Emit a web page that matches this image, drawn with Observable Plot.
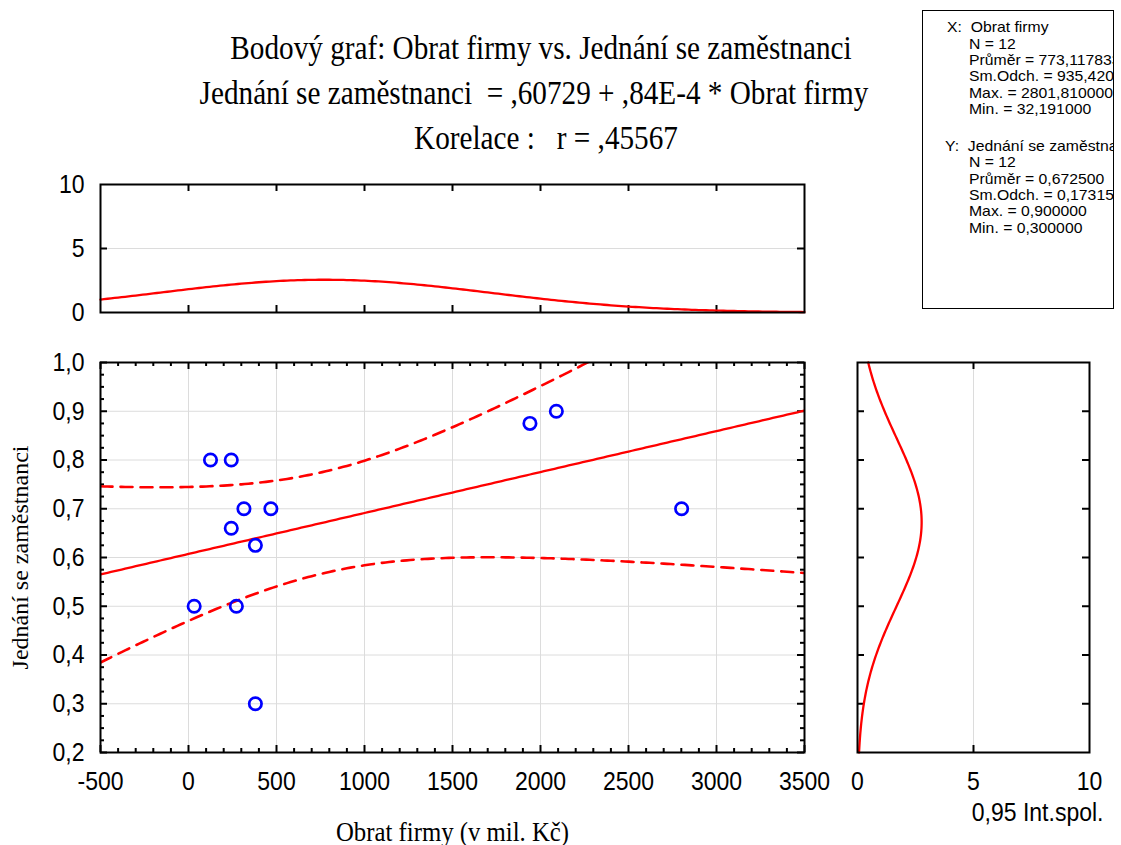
<!DOCTYPE html>
<html><head><meta charset="utf-8">
<script src="https://cdn.jsdelivr.net/npm/d3@7"></script>
<script src="https://cdn.jsdelivr.net/npm/@observablehq/plot@0.6"></script>
<style>
html,body{margin:0;padding:0;background:#fff;}
#root{position:relative;width:1121px;height:845px;overflow:hidden;background:#fff;}
.tline{position:absolute;font-family:'Liberation Serif','Times New Roman',serif;font-size:33px;line-height:33px;white-space:pre;color:#000;transform:translateX(-50%) scaleX(0.885);transform-origin:center;}
#stats{position:absolute;left:922px;top:10px;width:192px;height:299px;border:1px solid #000;box-sizing:border-box;overflow:hidden;font-family:'Liberation Sans',Arial,sans-serif;font-size:15px;color:#000;}
.sl{position:absolute;white-space:pre;line-height:1;transform:scaleX(1.05);transform-origin:left center;}
svg.abs{position:absolute;}
</style></head>
<body><div id="root"></div>
<script>
// ---- texts ----
const titleLines = [
  "Bodový graf: Obrat firmy vs. Jednání se zaměstnanci",
  "Jednání se zaměstnanci  = ,60729 + ,84E-4 * Obrat firmy",
  "Korelace :   r = ,45567"
];
const xTitle = "Obrat firmy (v mil. Kč)";
const yTitle = "Jednání se zaměstnanci";
const rightTitle = "0,95 Int.spol.";
const statsX = ["X:  Obrat firmy", "N = 12", "Průměr = 773,117833", "Sm.Odch. = 935,420200", "Max. = 2801,810000", "Min. = 32,191000"];
const statsY = ["Y:  Jednání se zaměstnanci", "N = 12", "Průměr = 0,672500", "Sm.Odch. = 0,173159", "Max. = 0,900000", "Min. = 0,300000"];

// ---- data ----
const obrat   = [125, 243, 315, 468, 243, 380, 32.191, 272, 380, 1940, 2090, 2801.81];
const jednani = [0.8, 0.8, 0.7, 0.7, 0.66, 0.625, 0.5, 0.5, 0.3, 0.875, 0.9, 0.7];

// summary statistics (from the stats box / title)
const nObs = 12, xMean = 773.117833, xSd = 935.4202, yMean = 0.6725, ySd = 0.173159;
const rCorr = 0.45567, intercept = 0.60729, slope = 0.84e-4, tCrit = 2.228;
const xBin = 500, yBin = 0.1;

// ---- tick arrays ----
const xMajor = [-500, 0, 500, 1000, 1500, 2000, 2500, 3000, 3500];
const xMinor = d3.range(-400, 3500, 100).filter(v => v % 500 !== 0);
const yMajor = [0.2, 0.3, 0.4, 0.5, 0.6, 0.7, 0.8, 0.9, 1.0];
const yMinor = d3.range(9, 40).filter(i => i % 4 !== 0).map(i => i * 0.025);
const topXTicks = [0, 500, 1000, 1500, 2000, 2500, 3000];
const topYTicks = [0, 5, 10];
const rightXTicks = [0, 5, 10];
const rightYTicks = [0.3, 0.4, 0.5, 0.6, 0.7, 0.8, 0.9];

const red = "#ff0000", blue = "#0000ff", gridColor = "#dcdcdc";
const comma1 = d => d.toFixed(1).replace(".", ",");

// ---- derived ----
const points = obrat.map((x, i) => ({x, y: jednani[i]}));
const sRes = ySd * Math.sqrt((1 - rCorr * rCorr) * (nObs - 1) / (nObs - 2));
const sxx = (nObs - 1) * xSd * xSd;
const xGrid = d3.range(-500, 3500.01, 20);
const band = xGrid.map(x => {
  const fit = intercept + slope * x;
  const h = tCrit * sRes * Math.sqrt(1 / nObs + (x - xMean) ** 2 / sxx);
  return {x, fit, lo: fit - h, hi: fit + h};
});
const pdf = (v, m, s) => Math.exp(-0.5 * ((v - m) / s) ** 2) / (s * Math.sqrt(2 * Math.PI));
const xDens = xGrid.map(x => ({x, d: nObs * xBin * pdf(x, xMean, xSd)}));
const yDens = d3.range(0.2, 1.00001, 0.005).map(y => ({y, d: nObs * yBin * pdf(y, yMean, ySd)}));

const root = document.getElementById("root");

// ---- title ----
const titleCenters = [541, 534, 546];
const titleTops = [32, 77, 122];
titleLines.forEach((t, i) => {
  const d = document.createElement("div");
  d.className = "tline";
  d.textContent = t;
  d.style.left = titleCenters[i] + "px";
  d.style.top = titleTops[i] + "px";
  root.appendChild(d);
});

// ---- stats box ----
const stats = document.createElement("div");
stats.id = "stats";
root.appendChild(stats);
const baseX = [32, 48.3, 64.6, 80.9, 97.2, 113.5];
const baseY = [150.7, 167, 183.3, 199.6, 215.9, 232.2];
function addStat(text, left, base) {
  const d = document.createElement("div");
  d.className = "sl";
  d.textContent = text;
  d.style.left = left + "px";
  d.style.top = (base - 12.7 - 11) + "px";
  stats.appendChild(d);
}
statsX.forEach((t, i) => addStat(t, i === 0 ? 23.5 : 46.3, baseX[i]));
statsY.forEach((t, i) => addStat(t, i === 0 ? 22 : 46.3, baseY[i]));

const baseStyle = {fontFamily: "'Liberation Sans', Arial, sans-serif", fontSize: "26px", background: "transparent", color: "black", overflow: "visible"};

function squeeze(svg, s) {
  svg.querySelectorAll("text").forEach(t => {
    const tr = t.getAttribute("transform");
    if (tr && tr.includes("rotate")) return;
    if (tr) t.setAttribute("transform", tr + ` scale(${s},1)`);
    else {
      const x = t.getAttribute("x") || 0, y = t.getAttribute("y") || 0;
      t.removeAttribute("x"); t.removeAttribute("y");
      t.setAttribute("transform", `translate(${x},${y}) scale(${s},1)`);
    }
  });
}
function place(svg, left, top) {
  svg.classList.add("abs");
  svg.style.left = left + "px";
  svg.style.top = top + "px";
  root.appendChild(svg);
  squeeze(svg, 0.885);
}

const dash = {stroke: red, strokeWidth: 2.6, strokeDasharray: "12,8", clip: true};
const serif = "'Liberation Serif', 'Times New Roman', serif";

// ---- main scatter ----
const MW = 704, MH = 390;
const mainPlot = Plot.plot({
  width: 850, height: 515,
  marginLeft: 100, marginRight: 46, marginTop: 32, marginBottom: 93,
  style: baseStyle,
  x: {domain: [-500, 3500]},
  y: {domain: [0.2, 1.0]},
  marks: [
    Plot.ruleX(xMajor, {stroke: gridColor, strokeWidth: 1}),
    Plot.ruleY(yMajor, {stroke: gridColor, strokeWidth: 1}),
    Plot.tickX(xMajor, {x: d => d, insetTop: MH - 7, stroke: "black", strokeWidth: 2}),
    Plot.tickX(xMajor, {x: d => d, insetBottom: MH - 7, stroke: "black", strokeWidth: 2}),
    Plot.tickX(xMinor, {x: d => d, insetTop: MH - 4, stroke: "black", strokeWidth: 2}),
    Plot.tickX(xMinor, {x: d => d, insetBottom: MH - 4, stroke: "black", strokeWidth: 2}),
    Plot.tickY(yMajor, {y: d => d, insetRight: MW - 7, stroke: "black", strokeWidth: 2}),
    Plot.tickY(yMajor, {y: d => d, insetLeft: MW - 7, stroke: "black", strokeWidth: 2}),
    Plot.tickY(yMinor, {y: d => d, insetRight: MW - 4, stroke: "black", strokeWidth: 2}),
    Plot.tickY(yMinor, {y: d => d, insetLeft: MW - 4, stroke: "black", strokeWidth: 2}),
    Plot.line(band, {x: "x", y: "lo", ...dash}),
    Plot.line(band, {x: "x", y: "hi", ...dash}),
    Plot.line(band, {x: "x", y: "fit", stroke: red, strokeWidth: 2.3, clip: true}),
    Plot.dot(points, {x: "x", y: "y", r: 6.2, stroke: blue, strokeWidth: 2.7, fill: "none"}),
    Plot.frame({stroke: "black", strokeWidth: 2}),
    Plot.axisX({ticks: xMajor, tickSize: 0, tickPadding: 19, tickFormat: d => String(d), label: null}),
    Plot.axisY({ticks: yMajor, tickSize: 0, tickPadding: 16, tickFormat: comma1, label: null}),
    Plot.text([xTitle], {text: d => d, frameAnchor: "bottom", dy: 80, lineAnchor: "middle", textAnchor: "middle", fontFamily: serif, fontSize: 28}),
    Plot.text([yTitle], {text: d => d, frameAnchor: "left", dx: -80, rotate: -90, lineAnchor: "middle", textAnchor: "middle", fontFamily: serif, fontSize: 24})
  ]
});
place(mainPlot, 0, 330);

// ---- top marginal ----
const TH = 128;
const topPlot = Plot.plot({
  width: 850, height: 155,
  marginLeft: 100, marginRight: 46, marginTop: 14, marginBottom: 13,
  style: baseStyle,
  x: {domain: [-500, 3500], axis: null},
  y: {domain: [0, 10]},
  marks: [
    Plot.ruleY([5], {stroke: gridColor, strokeWidth: 1}),
    Plot.tickX(topXTicks, {x: d => d, insetTop: TH - 7, stroke: "black", strokeWidth: 2}),
    Plot.tickX(topXTicks, {x: d => d, insetBottom: TH - 7, stroke: "black", strokeWidth: 2}),
    Plot.tickY([5], {y: d => d, insetRight: MW - 7, stroke: "black", strokeWidth: 2}),
    Plot.tickY([5], {y: d => d, insetLeft: MW - 7, stroke: "black", strokeWidth: 2}),
    Plot.line(xDens, {x: "x", y: "d", stroke: red, strokeWidth: 2.3}),
    Plot.frame({stroke: "black", strokeWidth: 2}),
    Plot.axisY({ticks: topYTicks, tickSize: 0, tickPadding: 16, tickFormat: d => String(d), label: null})
  ]
});
place(topPlot, 0, 170);

// ---- right marginal ----
const RW = 232;
const rightPlot = Plot.plot({
  width: 271, height: 515,
  marginLeft: 7, marginRight: 32, marginTop: 32, marginBottom: 93,
  style: baseStyle,
  x: {domain: [0, 10]},
  y: {domain: [0.2, 1.0], axis: null},
  marks: [
    Plot.ruleX([5], {stroke: gridColor, strokeWidth: 1}),
    Plot.tickX([5], {x: d => d, insetTop: MH - 7, stroke: "black", strokeWidth: 2}),
    Plot.tickX([5], {x: d => d, insetBottom: MH - 7, stroke: "black", strokeWidth: 2}),
    Plot.tickY(rightYTicks, {y: d => d, insetRight: RW - 7, stroke: "black", strokeWidth: 2}),
    Plot.tickY(rightYTicks, {y: d => d, insetLeft: RW - 7, stroke: "black", strokeWidth: 2}),
    Plot.line(yDens, {x: "d", y: "y", stroke: red, strokeWidth: 2.3}),
    Plot.frame({stroke: "black", strokeWidth: 2}),
    Plot.axisX({ticks: rightXTicks, tickSize: 0, tickPadding: 19, tickFormat: d => String(d), label: null}),
    Plot.text([rightTitle], {text: d => d, frameAnchor: "bottom-right", dx: 14, dy: 60, lineAnchor: "middle", textAnchor: "end", fontSize: 26})
  ]
});
place(rightPlot, 850, 330);
</script></body></html>
